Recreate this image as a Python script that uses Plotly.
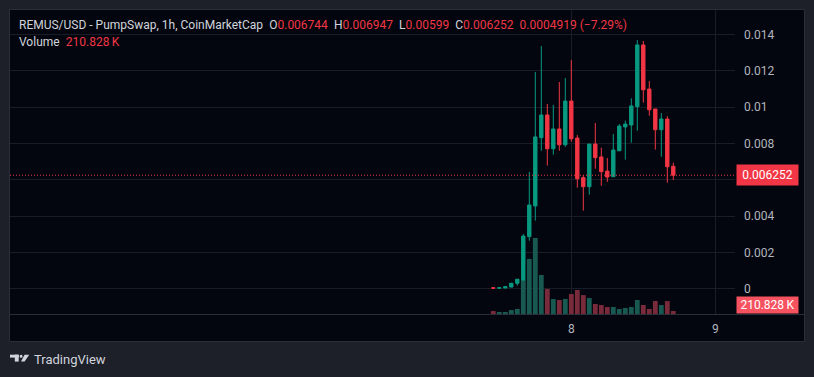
import pandas as pd
import plotly.graph_objects as go

# ---------------- data ----------------
times = pd.date_range("2025-06-07 11:00", periods=31, freq="h")

opens = [0.00005, 0.00003, 0.00004, 0.00009, 0.00030, 0.00048, 0.00287, 0.00456,
         0.00832, 0.00957, 0.00771, 0.00880, 0.00793, 0.01034, 0.00830, 0.00612,
         0.00562, 0.00797, 0.00726, 0.00648, 0.00617, 0.00760, 0.00891, 0.00902,
         0.01003, 0.01343, 0.01100, 0.00990, 0.00876, 0.00935, 0.006744]
highs = [0.00006, 0.00006, 0.00015, 0.00032, 0.00054, 0.00301, 0.00643, 0.01194,
         0.01337, 0.01018, 0.01012, 0.01139, 0.01161, 0.01260, 0.00847, 0.00626,
         0.00797, 0.00913, 0.00777, 0.00720, 0.00852, 0.00907, 0.00926, 0.01049,
         0.01370, 0.01365, 0.01144, 0.00990, 0.00968, 0.00951, 0.006947]
lows = [0.00002, 0.00002, 0.00003, 0.00008, 0.00017, 0.00045, 0.00264, 0.00375,
        0.00760, 0.00678, 0.00738, 0.00760, 0.00782, 0.00810, 0.00556, 0.00430,
        0.00518, 0.00661, 0.00567, 0.00588, 0.00615, 0.00758, 0.00711, 0.00804,
        0.00870, 0.01025, 0.00953, 0.00766, 0.00727, 0.00584, 0.00599]
closes = [0.00003, 0.00005, 0.00011, 0.00030, 0.00052, 0.00290, 0.00461, 0.00836,
          0.00957, 0.00771, 0.00880, 0.00793, 0.01034, 0.00826, 0.00606, 0.00562,
          0.00797, 0.00722, 0.00645, 0.00615, 0.00764, 0.00896, 0.00907, 0.01007,
          0.01343, 0.01096, 0.00986, 0.00876, 0.00935, 0.00672, 0.006252]
volumes = [208000, 139000, 142000, 276000, 355000, 2390000, 3870000, 5340000,
           2740000, 1760000, 1050000, 985000, 1060000, 1400000, 1690000, 1330000,
           1120000, 705000, 630000, 490000, 495000, 350000, 420000, 488000,
           985000, 635000, 355000, 915000, 630000, 910000, 210828]

price_ticks = [0, 0.002, 0.004, 0.006, 0.008, 0.01, 0.012, 0.014]
price_tick_labels = ["0", "0.002", "0.004", "", "0.008", "0.01", "0.012", "0.014"]
day_ticks = [pd.Timestamp("2025-06-08"), pd.Timestamp("2025-06-09")]
day_tick_labels = ["8", "9"]

last_price = 0.006252
last_volume_label = "210.828\u2009K"

# ---------------- style ----------------
W, H = 814, 377
L, R, T, B = 10, 79, 10, 63          # plot area: x 10..735, y 10..314
PW, PH = W - L - R, H - T - B
OUTER = "#1e2029"
INNER = "#03060e"
GRID = "#1a1d27"
BORDER = "#2a2e39"
UP = "#089981"
DOWN = "#f23645"
UP_VOL = "#185a51"
DOWN_VOL = "#7a2b3b"
TXT = "#d1d4dc"
AXT = "#b2b5be"
FONT = "Roboto"


def px2x(px):
    return (px - L) / PW


def py2y(py):
    return (T + PH - py) / PH


hour = pd.Timedelta(hours=1)
px_per_hour = 6.0
x_left = day_ticks[0] - hour * ((571.3 - L) / px_per_hour)
x_right = day_ticks[0] + hour * ((L + PW - 571.3) / px_per_hour)

vol_colors = [UP_VOL if c >= o else DOWN_VOL for o, c in zip(opens, closes)]

fig = go.Figure()
fig.add_trace(go.Bar(x=times, y=volumes, marker_color=vol_colors, marker_line_width=0,
                     yaxis="y", hoverinfo="skip", showlegend=False))
fig.add_trace(go.Candlestick(
    x=times, open=opens, high=highs, low=lows, close=closes, yaxis="y2",
    increasing=dict(line=dict(color=UP, width=1), fillcolor=UP),
    decreasing=dict(line=dict(color=DOWN, width=1), fillcolor=DOWN),
    whiskerwidth=0, showlegend=False))

shapes = [
    # inner dark chart frame
    dict(type="rect", xref="paper", yref="paper", layer="below",
         x0=px2x(9.5), x1=px2x(804.5), y0=py2y(341.5), y1=py2y(9.5),
         fillcolor=INNER, line=dict(color=BORDER, width=1)),
    # separator between pane and time scale
    dict(type="line", xref="paper", yref="paper", layer="above",
         x0=px2x(10), x1=px2x(804), y0=py2y(314.5), y1=py2y(314.5),
         line=dict(color=BORDER, width=1)),
    # last price dotted line
    dict(type="line", xref="paper", yref="y2", layer="above",
         x0=0, x1=1, y0=last_price, y1=last_price,
         line=dict(color=DOWN, width=1, dash="1px,2px")),
]

# TradingView logo (icon)
logo_col = TXT
shapes += [
    dict(type="rect", xref="paper", yref="paper", x0=px2x(10), x1=px2x(18.7),
         y0=py2y(357.6), y1=py2y(354.7), fillcolor=logo_col, line_width=0),
    dict(type="rect", xref="paper", yref="paper", x0=px2x(14.8), x1=px2x(18.7),
         y0=py2y(361.6), y1=py2y(354.7), fillcolor=logo_col, line_width=0),
    dict(type="circle", xref="paper", yref="paper", x0=px2x(19.6), x1=px2x(22.6),
         y0=py2y(357.7), y1=py2y(354.7), fillcolor=logo_col, line_width=0),
    dict(type="path", xref="paper", yref="paper",
         path=(f"M {px2x(24.6)} {py2y(354.7)} L {px2x(29.2)} {py2y(354.7)} "
               f"L {px2x(24.6)} {py2y(361.6)} L {px2x(21.0)} {py2y(361.6)} Z"),
         fillcolor=logo_col, line_width=0),
]

red = DOWN
header = (
    "REMUS/USD - PumpSwap, 1h, CoinMarketCap\u2002"
    f"O<span style='color:{red}'>0.006744</span>\u2002"
    f"H<span style='color:{red}'>0.006947</span>\u2002"
    f"L<span style='color:{red}'>0.00599</span>\u2002"
    f"C<span style='color:{red}'>0.006252</span>\u2002"
    f"<span style='color:{red}'>0.0004919 (\u22127.29%)</span>"
)

annotations = [
    dict(xref="paper", yref="paper", x=px2x(17.5), y=py2y(25), xanchor="left",
         yanchor="middle", text=header, showarrow=False, borderpad=0,
         font=dict(family=FONT, size=12, color=TXT)),
    dict(xref="paper", yref="paper", x=px2x(17.5), y=py2y(42), xanchor="left",
         yanchor="middle", showarrow=False, borderpad=0,
         text=f"Volume\u2002<span style='color:{red}'>{last_volume_label}</span>",
         font=dict(family=FONT, size=12, color=TXT)),
    # last price label
    dict(xref="paper", yref="y2", x=px2x(736), y=last_price, xanchor="left",
         yanchor="middle", showarrow=False, text=f"{last_price:.6f}",
         bgcolor=DOWN, width=59, height=18, borderpad=1, align="center",
         font=dict(family=FONT, size=12, color="#ffffff")),
    # last volume label
    dict(xref="paper", yref="paper", x=px2x(736), y=py2y(313.5), xanchor="left",
         yanchor="bottom", showarrow=False, text=last_volume_label,
         bgcolor="#f7525f", width=59, height=14, borderpad=1, align="center",
         font=dict(family=FONT, size=12, color="#ffffff")),
    # TradingView wordmark
    dict(xref="paper", yref="paper", x=px2x(32.5), y=py2y(359), xanchor="left",
         yanchor="middle", showarrow=False, text="TradingView", borderpad=0,
         font=dict(family=FONT, size=13, color=TXT)),
]

fig.update_layout(
    width=W, height=H,
    margin=dict(l=L, r=R, t=T, b=B, pad=0),
    paper_bgcolor=OUTER, plot_bgcolor=INNER,
    bargap=0.2, boxgap=0.2,
    showlegend=False,
    shapes=shapes, annotations=annotations,
    font=dict(family=FONT, size=12, color=AXT),
    xaxis=dict(type="date", range=[x_left, x_right], rangeslider=dict(visible=False),
               tickvals=day_ticks, ticktext=day_tick_labels, showgrid=True,
               gridcolor=GRID, gridwidth=1, zeroline=False, showline=False, ticks="",
               ticklabelstandoff=6, tickfont=dict(family=FONT, size=12, color=AXT)),
    yaxis=dict(range=[0, 21.36e6], visible=False, showgrid=False, fixedrange=True),
    yaxis2=dict(overlaying="y", side="right", range=[-0.001394, 0.015355],
                tickvals=price_ticks, ticktext=price_tick_labels, showgrid=True,
                gridcolor=GRID, gridwidth=1, zeroline=False, showline=False, ticks="",
                ticklabelstandoff=8, tickfont=dict(family=FONT, size=12, color=AXT)),
)

fig.write_html(
    "out.html",
    config={"displayModeBar": False},
    post_script=("document.body.style.margin='0';"
                 f"document.body.style.background='{OUTER}';"
                 "document.body.style.overflow='hidden';"),
)
